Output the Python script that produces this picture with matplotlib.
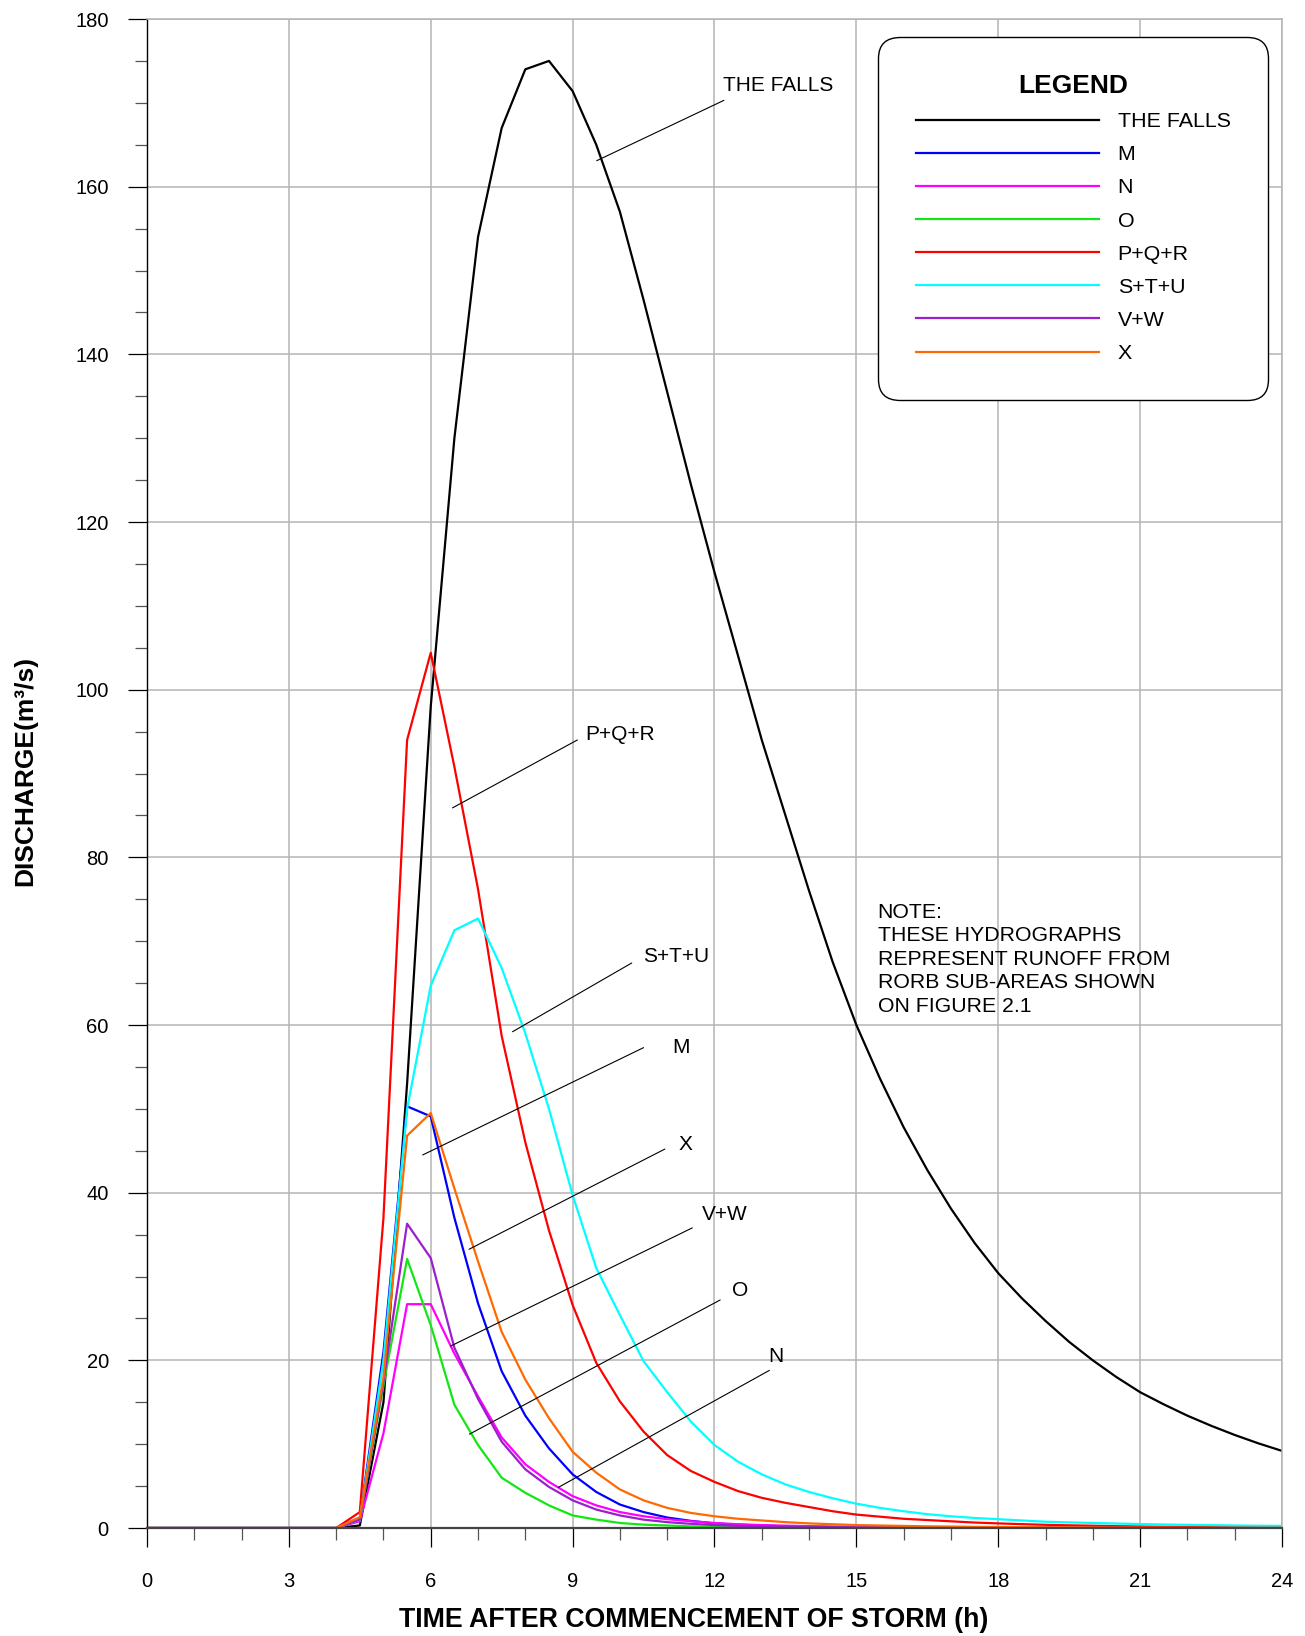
import matplotlib
matplotlib.use("Agg")
import matplotlib.pyplot as plt

plt.rcParams['font.family'] = ['Liberation Sans', 'DejaVu Sans']

# Zeit nach Sturmbeginn (h), Schritt 0.5 h
zeit_h = [0, 0.5, 1, 1.5, 2, 2.5, 3, 3.5, 4, 4.5, 5, 5.5, 6, 6.5, 7, 7.5,
          8, 8.5, 9, 9.5, 10, 10.5, 11, 11.5, 12, 12.5, 13, 13.5, 14, 14.5,
          15, 15.5, 16, 16.5, 17, 17.5, 18, 18.5, 19, 19.5, 20, 20.5, 21,
          21.5, 22, 22.5, 23, 23.5, 24]

# Abfluss (m3/s) je Teilgebiet, vor 4.5 h alles null
the_falls = [0] * 9 + [0.3, 15, 53, 98, 130, 154, 167, 174, 175, 171.4,
                       165, 157, 146.5, 135.5, 124.5, 114, 104, 94, 85, 76,
                       67.5, 60, 53.6, 47.8, 42.7, 38.1, 34.0, 30.4, 27.4, 24.7,
                       22.2, 20.0, 18.0, 16.2, 14.75, 13.4, 12.2, 11.1, 10.1, 9.2]
m = [0] * 9 + [1.2, 21, 50.3, 49.1, 37, 26.8, 18.7, 13.4, 9.5, 6.4,
               4.3, 2.8, 1.9, 1.25, 0.85, 0.55, 0.4, 0.3, 0.2, 0.15,
               0.12, 0.1, 0.08, 0.06, 0.05, 0.04, 0.03, 0.03, 0.02, 0.02,
               0.02, 0.01, 0.01, 0.01, 0.01, 0.01, 0, 0, 0, 0]
n = [0] * 9 + [0.8, 11.3, 26.7, 26.7, 20.8, 15.7, 10.8, 7.6, 5.5, 3.8,
               2.7, 1.9, 1.4, 1.05, 0.8, 0.6, 0.45, 0.35, 0.28, 0.22,
               0.18, 0.15, 0.12, 0.1, 0.08, 0.07, 0.06, 0.05, 0.04, 0.04,
               0.03, 0.03, 0.02, 0.02, 0.02, 0.02, 0.01, 0.01, 0.01, 0.01]
o = [0] * 9 + [1.0, 17, 32.1, 24.2, 14.7, 9.9, 6.0, 4.2, 2.7, 1.5,
               1.0, 0.6, 0.4, 0.3, 0.2, 0.15, 0.1, 0.08, 0.06, 0.05,
               0.04, 0.03, 0.02, 0.02, 0.01, 0.01, 0.01, 0, 0, 0,
               0, 0, 0, 0, 0, 0, 0, 0, 0, 0]
pqr = [0] * 9 + [1.9, 37, 94, 104.4, 90.8, 76.2, 58.7, 46, 35.5, 26.6,
                 19.7, 15.1, 11.5, 8.7, 6.8, 5.5, 4.4, 3.6, 3.0, 2.5,
                 2.0, 1.6, 1.35, 1.1, 0.95, 0.8, 0.65, 0.55, 0.46, 0.38,
                 0.32, 0.27, 0.22, 0.18, 0.15, 0.12, 0.1, 0.08, 0.07, 0.06]
stu = [0] * 9 + [1.0, 20, 50, 64.7, 71.3, 72.7, 66.8, 59, 50, 39.7,
                 31, 25.4, 19.9, 16.2, 12.7, 9.9, 7.9, 6.4, 5.2, 4.3,
                 3.55, 2.9, 2.4, 2.0, 1.65, 1.4, 1.2, 1.05, 0.9, 0.75,
                 0.67, 0.6, 0.53, 0.47, 0.42, 0.38, 0.34, 0.3, 0.27, 0.25]
vw = [0] * 9 + [1.0, 17.5, 36.3, 32.2, 21.5, 15.4, 10.3, 7.0, 4.9, 3.3,
                2.2, 1.5, 1.0, 0.7, 0.5, 0.35, 0.25, 0.2, 0.15, 0.12,
                0.1, 0.08, 0.06, 0.05, 0.04, 0.03, 0.03, 0.02, 0.02, 0.02,
                0.01, 0.01, 0.01, 0.01, 0.01, 0.01, 0, 0, 0, 0]
x = [0] * 9 + [1.3, 18, 46.8, 49.5, 40.5, 31.8, 23.4, 17.7, 13.1, 9.1,
               6.6, 4.6, 3.3, 2.4, 1.8, 1.4, 1.1, 0.9, 0.7, 0.55,
               0.45, 0.35, 0.3, 0.25, 0.2, 0.17, 0.14, 0.12, 0.1, 0.08,
               0.07, 0.06, 0.05, 0.04, 0.04, 0.03, 0.03, 0.02, 0.02, 0.02]

namen = ["THE FALLS", "M", "N", "O", "P+Q+R", "S+T+U", "V+W", "X"]
serien = [the_falls, m, n, o, pqr, stu, vw, x]
farben = ["#000000", "#0000ff", "#ff00ff", "#14e614", "#ff0000",
          "#00ffff", "#9b1fcc", "#ff6a00"]

# Beschriftungen: (Text, Startpunkt Linie, Endpunkt Linie, Textposition)
beschriftungen = [
    ("THE FALLS", (9.51, 163.1), (12.2, 170.3), (12.19, 172.1)),
    ("P+Q+R", (6.46, 85.9), (9.10, 94.0), (9.26, 94.6)),
    ("S+T+U", (7.73, 59.2), (10.25, 67.4), (10.48, 68.2)),
    ("M", (5.83, 44.5), (10.50, 57.3), (11.10, 57.3)),
    ("X", (6.81, 33.25), (10.95, 45.2), (11.25, 45.8)),
    ("V+W", (6.42, 21.7), (11.53, 35.8), (11.73, 37.4)),
    ("O", (6.82, 11.2), (12.12, 27.2), (12.38, 28.3)),
    ("N", (8.70, 4.85), (13.16, 18.8), (13.14, 20.5)),
]

notiz = ("NOTE:\nTHESE HYDROGRAPHS\nREPRESENT RUNOFF FROM\n"
         "RORB SUB-AREAS SHOWN\nON FIGURE 2.1")

fig = plt.figure(figsize=(13.05, 16.36), dpi=100)
ax = fig.add_axes([0.11264, 0.06601, 0.86973, 0.92237])

for werte, name, farbe in zip(serien, namen, farben):
    ax.plot(zeit_h, werte, color=farbe, lw=1.6, label=name)

ax.set_xlim(0, 24)
ax.set_ylim(0, 180)
ax.set_xticks(range(0, 25, 3))
ax.set_xticks(range(0, 25), minor=True)
ax.set_yticks(range(0, 181, 20))
ax.set_yticks(range(0, 181, 5), minor=True)

gitter = "#b4b4b4"
ax.set_axisbelow(True)
ax.grid(which="major", color=gitter, lw=1.1)
ax.spines["top"].set_color(gitter)
ax.spines["right"].set_color(gitter)
ax.spines["top"].set_linewidth(1.1)
ax.spines["right"].set_linewidth(1.1)
ax.spines["left"].set_color("black")
ax.spines["left"].set_linewidth(1.0)
ax.spines["bottom"].set_color("#444444")
ax.spines["bottom"].set_linewidth(1.6)

ax.tick_params(which="major", length=13.5, width=0.9, labelsize=14.5,
               color="black")
ax.tick_params(which="minor", length=8.5, width=0.9, color="#555555")
ax.tick_params(axis="y", which="major", pad=14)
ax.tick_params(axis="x", which="major", pad=18)

ax.set_xlabel("TIME AFTER COMMENCEMENT OF STORM (h)", fontsize=19.3,
              fontweight="bold")
ax.xaxis.set_label_coords(0.4816, -0.0525)
ax.set_ylabel("DISCHARGE(m³/s)", fontsize=19, fontweight="bold")
ax.yaxis.set_label_coords(-0.097, 0.502)

for text, start, ende, pos in beschriftungen:
    ax.annotate("", xy=start, xytext=ende,
                arrowprops=dict(arrowstyle="-", lw=0.8, color="black",
                                shrinkA=0, shrinkB=0))
    ax.text(pos[0], pos[1], text, fontsize=15, ha="left", va="center")

ax.text(15.45, 74.6, notiz, fontsize=15.3, ha="left", va="top",
        linespacing=1.30)

leg = ax.legend(loc="upper right", bbox_to_anchor=(0.9877, 0.9883),
                borderaxespad=0, fontsize=15.4, title="LEGEND",
                handlelength=8.58, handletextpad=0.85, labelspacing=0.66,
                borderpad=1.75, fancybox=True, framealpha=1,
                edgecolor="black")
leg.get_title().set_fontsize(19)
leg.get_title().set_fontweight("bold")
leg.get_frame().set_boxstyle("round,pad=0,rounding_size=1.0")
leg.get_frame().set_linewidth(1.0)
for linie in leg.get_lines():
    linie.set_linewidth(1.6)

fig.savefig("out.png", dpi=100)
